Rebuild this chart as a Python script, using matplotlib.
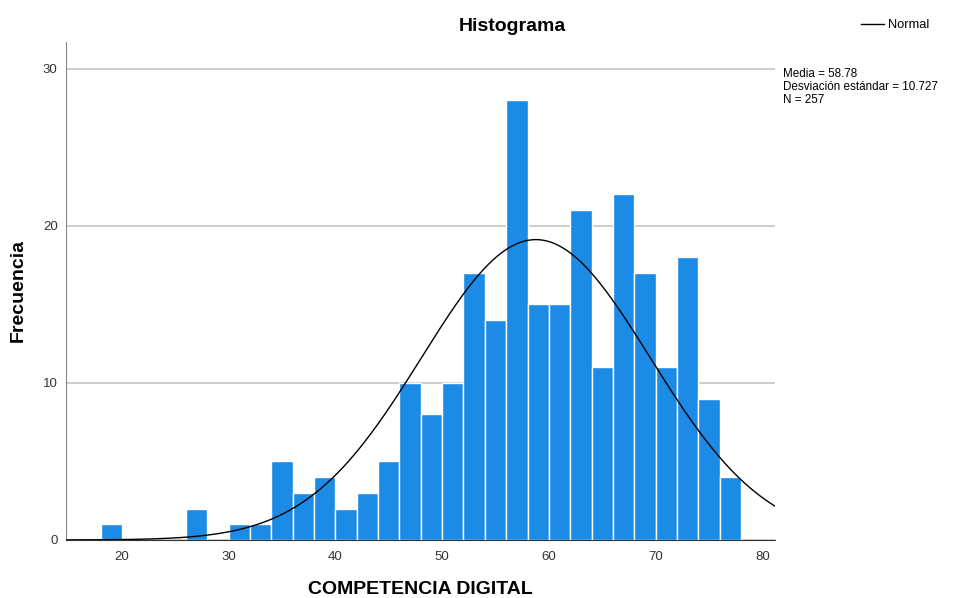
import numpy as np
import matplotlib.pyplot as plt

plt.rcParams['font.family'] = ['Liberation Sans', 'DejaVu Sans']

# Frequencies per bin of width 2 (left edges from 18 to 76)
bin_left = [18, 20, 22, 24, 26, 28, 30, 32, 34, 36, 38, 40, 42, 44, 46,
            48, 50, 52, 54, 56, 58, 60, 62, 64, 66, 68, 70, 72, 74, 76]
counts = [1, 0, 0, 0, 2, 0, 1, 1, 5, 3, 4, 2, 3, 5, 10,
          8, 10, 17, 14, 28, 15, 15, 21, 11, 22, 17, 11, 18, 9, 4]
bin_width = 2

media = 58.78
desv = 10.727
n = 257

fig = plt.figure(figsize=(9.64, 5.98), dpi=100)
ax = fig.add_axes([0.0685, 0.097, 0.7355, 0.833])

ax.bar(bin_left, counts, width=bin_width, align='edge', color='#1b8be6',
       edgecolor='white', linewidth=1.0, zorder=2)

# Normal curve scaled to counts
xs = np.linspace(14.75, 81.2, 400)
ys = n * bin_width * np.exp(-0.5 * ((xs - media) / desv) ** 2) / (desv * np.sqrt(2 * np.pi))
line, = ax.plot(xs, ys, color='black', linewidth=1.0, zorder=3)

ax.set_xlim(14.75, 81.2)
ax.set_ylim(0, 31.7)
ax.set_xticks([20, 30, 40, 50, 60, 70, 80])
ax.set_yticks([0, 10, 20, 30])
ax.yaxis.grid(True, color='#c8c8c8', linewidth=1.3, zorder=0)
ax.set_axisbelow(True)

for side in ['top', 'right']:
    ax.spines[side].set_visible(False)
ax.spines['left'].set_color('#888888')
ax.spines['bottom'].set_color('#333333')
ax.tick_params(axis='both', labelsize=9.5, colors='#333333', length=0)
ax.tick_params(axis='y', pad=6)
ax.tick_params(axis='x', pad=8)

ax.set_xlabel('COMPETENCIA DIGITAL', fontsize=14, fontweight='bold', va='center')
ax.xaxis.set_label_coords(0.5, -0.1)
ax.set_ylabel('Frecuencia', fontsize=14, fontweight='bold', va='center')
ax.yaxis.set_label_coords(-0.068, 0.5)

fig.text(0.532, 0.955, 'Histograma', ha='center', va='center',
         fontsize=14, fontweight='bold')

fig.legend([line], ['Normal'], loc='center left', bbox_to_anchor=(0.881, 0.958),
           frameon=False, fontsize=9.3, handlelength=1.8, handletextpad=0.3)

fig.text(0.812, 0.887,
         'Media = %.2f\nDesviación estándar = %.3f\nN = %d' % (media, desv, n),
         ha='left', va='top', fontsize=8.4, linespacing=1.15)

fig.savefig('out.png', dpi=100)
